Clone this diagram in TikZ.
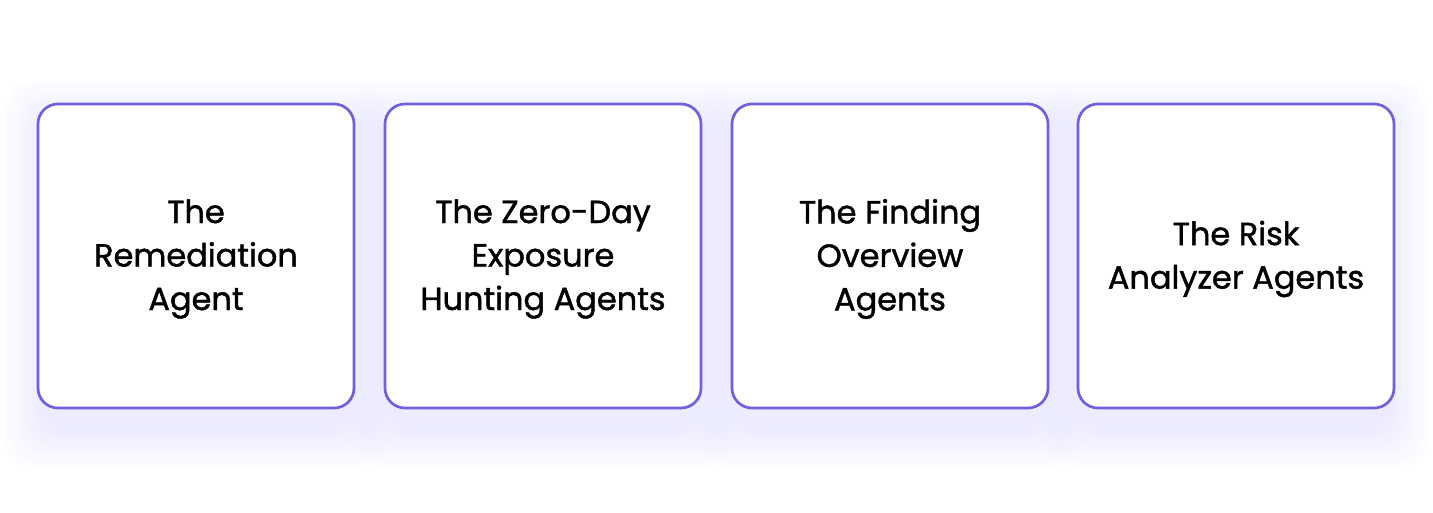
\documentclass[tikz,border=0pt]{standalone}
\usepackage{fontspec}
\newfontfamily\boxfont{Poppins}[FakeBold=1.3]
\usetikzlibrary{backgrounds}
\definecolor{boxline}{RGB}{112,96,224}
\definecolor{glow}{RGB}{110,70,255}
\tikzset{
  agentbox/.style={draw=boxline, line width=2.7pt, fill=white, rounded corners=20pt,
    minimum width=316pt, minimum height=304pt, inner sep=0pt},
  agenttext/.style={align=center, inner sep=0pt, font=\boxfont\fontsize{32}{43.5}\selectfont},
  glowlayer/.style={fill=glow, fill opacity=0.008, rounded corners=30pt},
}
\begin{document}
\begin{tikzpicture}[x=1pt,y=1pt]
\useasboundingbox (0,0) rectangle (1433,-512);
\node[agentbox] (a) at (196,-256) {};
\node[agentbox] (b) at (543,-256) {};
\node[agentbox] (c) at (890,-256) {};
\node[agentbox] (d) at (1236,-256) {};
\node[agenttext] (ta) at ([yshift=-3]a.center) {The\\Remediation\\Agent};
\node[agenttext] (tb) at ([yshift=-3]b.center) {The Zero-Day\\Exposure\\Hunting Agents};
\node[agenttext] (tc) at ([yshift=-3]c.center) {The Finding\\Overview\\Agents};
\node[agenttext] (td) at ([yshift=-3]d.center) {The Risk\\Analyzer Agents};
\begin{scope}[on background layer]
\fill[white] (0,0) rectangle (1433,-512);
\foreach \n in {a,b,c,d}{
  \foreach \s in {0,4,...,36}{
    \fill[glowlayer] ([shift={(-\s+4,-\s-22)}]\n.south west) rectangle ([shift={(\s-4,\s-14)}]\n.north east);
  }
}
\end{scope}
\end{tikzpicture}
\end{document}
